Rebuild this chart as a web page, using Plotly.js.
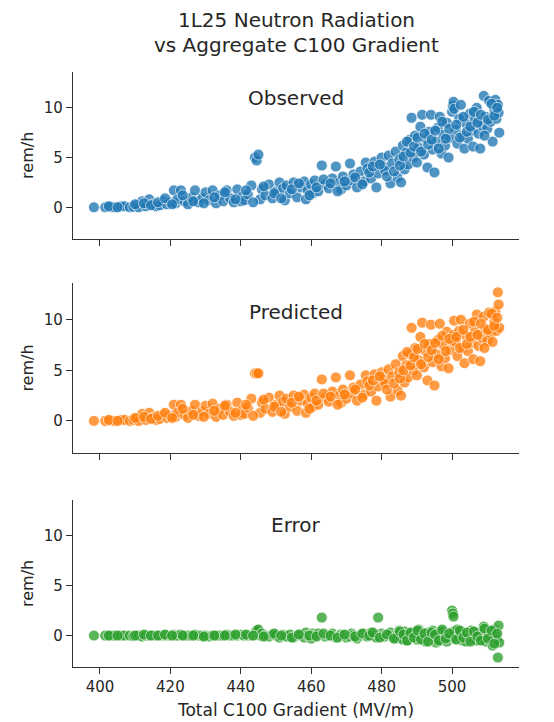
<!DOCTYPE html>
<html>
<head>
<meta charset="utf-8">
<script src="https://cdn.plot.ly/plotly-3.0.1.min.js"></script>
<style>html,body{margin:0;padding:0;background:#fff;}#chart{width:554px;height:722px;}</style>
</head>
<body>
<div id="chart"></div>
<script>
// Total C100 gradient (MV/m)
var gradient = [
398.3,401.5,403,404,406,407,408.5,409.5,410.5,411,412,413,414,415,416,417,418,419,420,
421,421.5,422,423,424,425,426,427,428,429,430,431,432,433,434,435,436,437,438,439,440,440.5,
441,442,443,444,444.5,445,445.5,446,447,448,449,450,451,452,452.5,453,454,455,456,457,458,458.5,459,460,460.5,
461,462,463,464,465,466,467,468,468.5,469,470,471,471.5,472,473,474,475,475.5,476,477,478,478.5,479,480,480.5,
481,482,482.5,483,484,484.5,485,485.5,486,486.5,487,487.5,488,488.5,489,489.5,490,490.5,491,491.5,492,492.5,493,493.5,494,494.5,495,495.5,496,496.5,497,497.5,498,498.5,499,499.5,
500,500.2,500.4,500.6,501,501.5,502,502.5,503,503.5,504,504.5,505,505.5,506,506.5,507,507.5,508,508.5,509,509.5,510,510.5,511,511.5,512,512.3,512.6,513,513.2,513.4,
402.5,405,410,412.5,414.5,416.5,418.5,420.5,423.5,426.5,429.5,432.5,435.5,438.5,
441.5,443.5,446.5,449.5,451.5,454.5,456.5,459.5,461.5,463.5,465.5,467.5,469.5,472.5,474.5,476.5,477.5,479.5,
481.5,483.5,485.2,486.2,487.2,488.2,489.2,490.2,491.2,492.2,493.2,494.2,495.2,496.2,497.2,498.2,499.2,
501.2,502.2,503.2,504.2,505.2,506.2,507.2,508.2,509.2,510.2,511.2,512.0,512.8
];
// Observed rem/h
var observed = [
0,0,0.05,0,0.1,0.1,0,0.05,0.2,0,0.6,0.1,0.8,0.3,0.1,0.2,0.6,0.3,0.5,
1.7,0.4,0.8,1.7,0.6,0.3,1.0,1.7,0.5,0.9,1.5,0.7,1.7,0.4,1.2,0.6,1.7,0.9,0.5,1.8,0.6,1.1,
0.7,1.3,2.2,5.0,4.7,5.3,0.8,1.8,1.2,2.3,0.9,1.6,2.5,1.9,0.7,2.2,1.4,2.5,1.0,2.0,2.6,0.8,1.7,2.3,1.4,
2.7,1.6,4.2,2.3,1.9,2.9,4.1,2.5,1.8,3.1,2.2,4.4,2.7,3.3,2.0,3.6,2.6,4.5,3.9,2.9,4.6,2.0,3.4,5.0,4.1,
3.7,5.2,2.4,4.4,5.6,3.0,4.8,2.5,6.2,3.8,5.5,4.3,6.8,9.0,5.0,7.2,4.5,6.0,8.1,9.3,5.3,6.9,4.0,7.6,9.3,5.8,3.5,6.6,8.0,9.1,5.4,7.3,6.2,8.5,5.0,7.0,
9.6,10.2,10.6,9.9,7.8,6.4,8.9,10.3,7.2,5.9,8.4,6.9,9.4,7.7,6.1,8.8,10.0,7.4,5.9,8.2,11.2,9.1,7.9,10.7,8.6,6.6,9.8,10.8,8.9,10.3,9.5,7.5,
0.1,0,0.3,0.4,0.2,0.5,0.9,0.3,1.2,0.6,0.4,1.0,1.5,0.8,
1.7,0.5,2.1,1.4,0.9,1.8,2.4,1.2,2.0,2.8,2.4,1.6,2.6,3.0,2.3,3.5,4.1,4.3,
3.1,3.6,4.2,5.1,6.6,5.5,6.1,7.0,5.6,7.4,6.3,6.8,7.7,5.9,8.6,6.9,7.9,
8.3,7.0,9.1,7.6,8.1,9.6,8.5,9.3,7.2,8.8,10.4,9.2,10.0
];
// Predicted rem/h
var predicted = [
0,0,0.05,0,0.1,0.1,0,0.1,0.2,0,0.7,0.1,0.8,0.3,0.1,0.2,0.6,0.3,0.5,
1.6,0.4,0.8,1.6,0.6,0.3,1.0,1.6,0.5,0.9,1.5,0.7,1.7,0.4,1.2,0.6,1.6,0.9,0.5,1.8,0.6,1.1,
0.7,1.3,2.2,4.7,4.7,4.7,0.8,1.8,1.2,2.3,0.9,1.6,2.5,1.9,0.7,2.2,1.4,2.5,1.0,2.0,2.6,0.8,1.7,2.3,1.4,
2.7,1.6,4.1,2.3,1.9,2.9,4.3,2.5,1.8,3.1,2.2,4.5,2.7,3.3,2.0,3.6,2.6,4.5,3.9,2.9,4.6,2.0,3.4,4.8,4.1,
3.7,5.1,2.4,4.4,5.6,3.0,4.8,2.5,6.4,3.8,5.5,4.3,6.6,9.2,5.0,7.2,4.5,6.0,8.3,9.7,5.3,6.9,4.0,7.6,9.5,5.8,3.5,6.6,8.0,9.6,5.4,7.5,6.2,8.8,5.2,7.0,
7.9,8.2,8.5,9.9,7.8,6.4,8.9,10.0,7.2,5.7,8.4,6.9,9.6,7.7,6.1,8.8,10.5,7.4,5.9,8.2,10.3,9.1,7.9,10.7,8.6,7.8,9.8,10.8,8.9,12.7,11.5,9.2,
0.1,0,0.3,0.4,0.2,0.5,0.8,0.3,1.2,0.6,0.4,1.0,1.5,0.8,
1.6,0.5,2.1,1.4,0.9,1.8,2.4,1.2,2.0,2.7,2.4,1.6,2.6,3.1,2.3,3.5,4.0,4.4,
3.1,3.7,4.2,5.0,6.8,5.5,6.3,7.1,5.6,7.6,6.3,7.0,7.7,6.1,8.4,6.9,8.1,
8.3,7.2,9.0,7.6,8.3,9.8,8.5,9.6,7.2,9.0,10.6,9.4,10.2
];
// Error rem/h
var errorVals = [
0,0,0,0,0,0,0,-0.05,0,0,-0.1,0,0,0,0,0,0,0,0,
0.1,0,0,0.1,0,0,0,0.1,0,0,0,-0.1,0,0,0,0,0.1,0,0,0,0.1,0.05,
0,0,0,0.3,0.5,0.6,0,0.2,0,-0.1,0.1,0,-0.2,0.1,0,-0.1,0.1,-0.2,0,0.1,-0.2,0.3,0,-0.3,0.2,
0,0.2,1.8,-0.1,0,0.2,-0.2,0,0.1,0,-0.2,-0.1,0.2,0,-0.3,0,0.2,0,-0.1,0.3,0,-0.2,1.8,0.2,0,
-0.1,0.1,0.3,0,-0.3,0.1,0.5,-0.2,-0.4,0.4,0,-0.5,0.2,-0.2,0.3,0,-0.4,0.6,-0.2,-0.4,0.1,-0.6,0.3,0,-0.2,0.5,-0.3,-0.7,0.2,-0.5,0.4,-0.2,0.1,-0.6,-0.2,0.3,
2.5,2.2,1.9,0.4,-0.3,0.6,-0.2,0.3,-0.5,0.2,-0.6,0.1,-0.2,0.5,-0.4,0,-0.5,0.3,0.1,-0.3,0.9,-0.6,0.2,-0.1,0.4,-1.0,0.6,0,-0.4,-2.2,1.0,-0.7,
0,0,0,0.1,0,0,0.1,0,0,0,-0.1,0,0,0.1,
0.1,0,-0.1,0.2,0,-0.2,0.1,0,-0.1,0.2,0,-0.2,0.1,-0.1,0.2,0,0.3,-0.2,
0.1,-0.3,0.4,0.1,-0.5,0.3,-0.2,0.5,-0.4,0.2,-0.6,0.3,0.1,-0.5,0.6,-0.3,0.2,
-0.4,0.5,-0.2,0.3,-0.6,0.4,-0.1,-0.5,0.7,-0.3,0.5,-0.8,0.2
];

var tickVals = [400, 420, 440, 460, 480, 500];
var yTickVals = [0, 5, 10];
var panelLabels = ['Observed', 'Predicted', 'Error'];
var yTitle = 'rem/h';
var xTitle = 'Total C100 Gradient (MV/m)';
var titleLines = ['1L25 Neutron Radiation', 'vs Aggregate C100 Gradient'];

var colors = ['#1f77b4', '#ff7f0e', '#2ca02c'];
var series = [observed, predicted, errorVals];

var traces = series.map(function (s, i) {
  return {
    type: 'scatter', mode: 'markers',
    x: gradient, y: s,
    xaxis: i === 0 ? 'x' : 'x' + (i + 1),
    yaxis: i === 0 ? 'y' : 'y' + (i + 1),
    marker: {size: 11, color: colors[i], opacity: 0.78, line: {color: '#ffffff', width: 0.8}},
    showlegend: false, hoverinfo: 'x+y'
  };
});

var fam = 'DejaVu Sans, sans-serif';
var txt = '#262626';
function xa(showLabels, anchor, title) {
  var a = {
    range: [392.35, 519], anchor: anchor, domain: [0, 1],
    tickvals: tickVals, showticklabels: showLabels,
    ticks: 'outside', ticklen: 6, tickwidth: 1, tickcolor: '#333',
    showline: true, linecolor: '#333', linewidth: 1.2,
    showgrid: false, zeroline: false,
    tickfont: {family: fam, size: 15, color: txt}
  };
  if (title) a.title = {text: title, font: {family: fam, size: 17, color: txt}, standoff: 8};
  return a;
}
function ya(domain, anchor) {
  return {
    range: [-3.15, 13.6], domain: domain, anchor: anchor,
    tickvals: yTickVals,
    ticks: 'outside', ticklen: 6, tickwidth: 1, tickcolor: '#333',
    showline: true, linecolor: '#333', linewidth: 1.2,
    showgrid: false, zeroline: false,
    tickfont: {family: fam, size: 15, color: txt},
    title: {text: yTitle, font: {family: fam, size: 16, color: txt}, standoff: 6}
  };
}

var annFont = {family: fam, size: 20, color: txt};
var layout = {
  width: 554, height: 722,
  margin: {l: 73, r: 35, t: 72, b: 55},
  paper_bgcolor: '#fff', plot_bgcolor: '#fff',
  font: {family: fam, color: txt},
  xaxis: xa(false, 'y'),
  xaxis2: xa(false, 'y2'),
  xaxis3: xa(true, 'y3', xTitle),
  yaxis: ya([0.72, 1], 'x'),
  yaxis2: ya([0.36, 0.645], 'x2'),
  yaxis3: ya([0, 0.281], 'x3'),
  annotations: [
    {text: titleLines[0], xref: 'paper', yref: 'paper', x: 0.5, y: 1.087, yanchor: 'middle', showarrow: false, font: annFont},
    {text: titleLines[1], xref: 'paper', yref: 'paper', x: 0.5, y: 1.045, yanchor: 'middle', showarrow: false, font: annFont},
    {text: panelLabels[0], xref: 'paper', yref: 'paper', x: 0.5, y: 0.956, yanchor: 'middle', showarrow: false, font: annFont},
    {text: panelLabels[1], xref: 'paper', yref: 'paper', x: 0.5, y: 0.597, yanchor: 'middle', showarrow: false, font: annFont},
    {text: panelLabels[2], xref: 'paper', yref: 'paper', x: 0.5, y: 0.239, yanchor: 'middle', showarrow: false, font: annFont}
  ]
};

Plotly.newPlot('chart', traces, layout, {displayModeBar: false, staticPlot: true});
</script>
</body>
</html>
